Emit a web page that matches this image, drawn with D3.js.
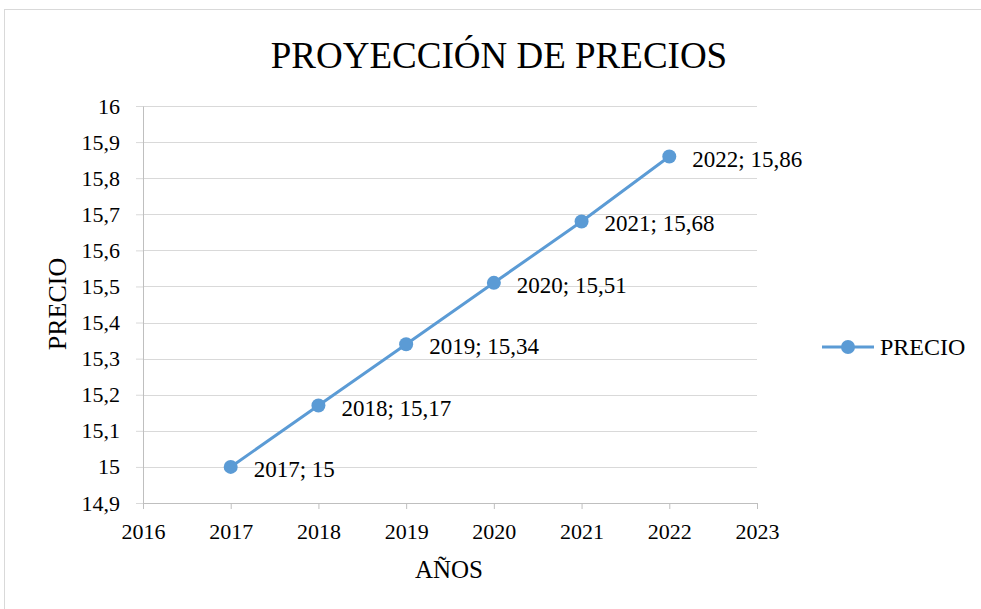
<!DOCTYPE html>
<html>
<head>
<meta charset="utf-8">
<script src="https://cdn.jsdelivr.net/npm/d3@7"></script>
<style>
  body { margin: 0; background: #fff; }
  svg { font-family: "Liberation Serif", "Times New Roman", serif; }
</style>
</head>
<body>
<svg id="chart"></svg>
<script>
// data
const years = [2017, 2018, 2019, 2020, 2021, 2022];
const prices = [15, 15.17, 15.34, 15.51, 15.68, 15.86];
const yTicks = [14.9, 15, 15.1, 15.2, 15.3, 15.4, 15.5, 15.6, 15.7, 15.8, 15.9, 16];
const xTicks = [2016, 2017, 2018, 2019, 2020, 2021, 2022, 2023];

const width = 981, height = 609;
const margin = {top: 106, right: 224, bottom: 106, left: 143};
const graphWidth = width - margin.left - margin.right;
const graphHeight = height - margin.top - margin.bottom;
const blue = '#5b9bd5';
const serif = '"Liberation Serif", "Times New Roman", serif';

const svg = d3.select('#chart')
    .attr('width', width)
    .attr('height', height);

// outer frame
svg.append('rect')
    .attr('x', 4.5).attr('y', 9.5)
    .attr('width', width + 10).attr('height', height)
    .attr('fill', 'none')
    .attr('stroke', '#d9d9d9');

const xScale = d3.scaleLinear().domain([2016, 2023]).range([0, graphWidth]);
const yScale = d3.scaleLinear().domain([14.9, 16]).range([graphHeight, 0]);

const fmt = d => String(d).replace('.', ',');

const g = svg.append('g').attr('transform', `translate(${margin.left}, ${margin.top})`);

// horizontal gridlines
g.append('g')
  .selectAll('line')
  .data(yTicks.slice(1))
  .join('line')
    .attr('x1', 0).attr('x2', graphWidth)
    .attr('y1', d => Math.round(yScale(d)) + 0.5)
    .attr('y2', d => Math.round(yScale(d)) + 0.5)
    .attr('stroke', '#d9d9d9');

const yAxis = g.append('g')
    .call(d3.axisLeft(yScale).tickValues(yTicks).tickFormat(fmt).tickSize(7).tickSizeOuter(0).tickPadding(16));
yAxis.select('.domain').attr('stroke', '#bfbfbf');
yAxis.selectAll('.tick line').attr('stroke', '#d9d9d9');

const xAxis = g.append('g')
    .attr('transform', `translate(0, ${graphHeight})`)
    .call(d3.axisBottom(xScale).tickValues(xTicks).tickFormat(d => d).tickSize(6).tickSizeOuter(0).tickPadding(14));
xAxis.selectAll('.domain, .tick line').attr('stroke', '#bfbfbf');

// tick labels in serif, like the rest
g.selectAll('.tick text')
    .style('font-family', serif)
    .style('font-size', '22px')
    .style('fill', '#000');

// series
const pts = years.map((y, i) => ({year: y, price: prices[i]}));
const line = d3.line().x(d => xScale(d.year)).y(d => yScale(d.price));

g.append('path')
    .datum(pts)
    .attr('d', line)
    .attr('fill', 'none')
    .attr('stroke', blue)
    .attr('stroke-width', 3);

g.selectAll('circle.pt')
  .data(pts)
  .join('circle')
    .attr('class', 'pt')
    .attr('cx', d => xScale(d.year))
    .attr('cy', d => yScale(d.price))
    .attr('r', 7)
    .attr('fill', blue);

g.selectAll('text.lbl')
  .data(pts)
  .join('text')
    .attr('class', 'lbl')
    .attr('x', d => xScale(d.year) + 23)
    .attr('y', d => yScale(d.price) + 10)
    .attr('font-size', 23)
    .text(d => `${d.year}; ${fmt(d.price)}`);

// title + axis titles
svg.append('text')
    .attr('x', 499).attr('y', 68)
    .attr('text-anchor', 'middle')
    .attr('font-size', 37)
    .text('PROYECCIÓN DE PRECIOS');

svg.append('text')
    .attr('transform', `translate(66, 304) rotate(-90)`)
    .attr('text-anchor', 'middle')
    .attr('font-size', 26)
    .text('PRECIO');

svg.append('text')
    .attr('x', 449).attr('y', 578)
    .attr('text-anchor', 'middle')
    .attr('font-size', 25)
    .text('AÑOS');

// legend
const leg = svg.append('g').attr('transform', 'translate(822, 347)');
leg.append('line').attr('x1', 0).attr('x2', 52).attr('y1', 0).attr('y2', 0)
    .attr('stroke', blue).attr('stroke-width', 3);
leg.append('circle').attr('cx', 26).attr('cy', 0).attr('r', 7).attr('fill', blue);
leg.append('text').attr('x', 58).attr('y', 8).attr('font-size', 24).text('PRECIO');
</script>
</body>
</html>
